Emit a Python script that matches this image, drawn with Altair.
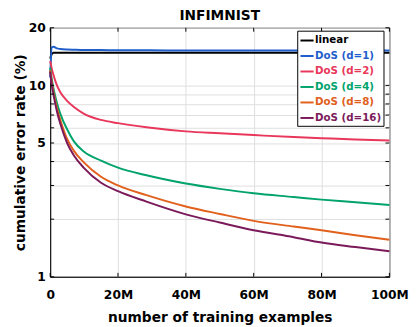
import altair as alt
import pandas as pd

# ---- data ----
names = ["linear", "DoS (d=1)", "DoS (d=2)", "DoS (d=4)", "DoS (d=8)", "DoS (d=16)"]
colors = ["#000000", "#1f5fcc", "#e8375a", "#00a36c", "#e0601c", "#7b1a5a"]

x_millions = [0, 0.5, 1, 2, 3, 5, 7, 10, 15, 20, 28.4, 40, 50, 60, 71.8, 80, 90, 100]

linear = [13.8, 14.6, 14.8, 14.8, 14.8, 14.8, 14.8, 14.8, 14.8, 14.8, 14.8, 14.8, 14.8, 14.8, 14.8, 14.8, 14.8, 14.8]
dos_d1 = [11.0, 15.8, 15.9, 15.6, 15.5, 15.4, 15.35, 15.3, 15.3, 15.25, 15.25, 15.2, 15.2, 15.2, 15.2, 15.2, 15.2, 15.2]
dos_d2 = [13.4, 12.2, 11.3, 10.0, 9.2, 8.3, 7.7, 7.1, 6.6, 6.35, 6.04, 5.75, 5.62, 5.5, 5.37, 5.3, 5.22, 5.15]
dos_d4 = [12.4, 10.7, 9.6, 8.1, 7.1, 5.9, 5.1, 4.5, 4.05, 3.72, 3.39, 3.07, 2.88, 2.73, 2.61, 2.53, 2.45, 2.37]
dos_d8 = [12.0, 10.3, 9.2, 7.6, 6.6, 5.25, 4.55, 3.95, 3.33, 3.0, 2.67, 2.33, 2.13, 1.96, 1.83, 1.75, 1.65, 1.56]
dos_d16 = [11.8, 10.0, 8.9, 7.3, 6.3, 5.0, 4.3, 3.7, 3.1, 2.8, 2.47, 2.12, 1.92, 1.75, 1.61, 1.51, 1.43, 1.36]

series = [linear, dos_d1, dos_d2, dos_d4, dos_d8, dos_d16]

y_ticks = [1, 2, 3, 4, 5, 6, 7, 8, 9, 10, 20]
y_labels = [1, 5, 10, 20]
x_ticks = [0, 20, 40, 60, 80, 100]

W, H = 346, 254
TICK = 4

rows = []
for name, vals in zip(names, series):
    for i, (x, v) in enumerate(zip(x_millions, vals)):
        rows.append({"series": name, "x": x, "err": v, "order": i})
df = pd.DataFrame(rows)

label_color_expr = ""
for n, c in zip(names, colors):
    label_color_expr += f"datum.label == '{n}' ? '{c}' : "
label_color_expr += "'black'"

ylab_test = " || ".join(f"datum.value == {v}" for v in y_labels)

xscale = alt.Scale(domain=[0, 100], nice=False)
yscale = alt.Scale(type="log", domain=[1, 20], nice=False)

lines = alt.Chart(df).mark_line(strokeWidth=2, interpolate="monotone").encode(
    x=alt.X("x:Q", scale=xscale,
            axis=alt.Axis(values=x_ticks, title="number of training examples",
                          labelExpr="datum.value == 0 ? '0' : datum.value + 'M'",
                          labelFlush=False, labelOverlap=False, labelPadding=12,
                          titlePadding=10)),
    y=alt.Y("err:Q", scale=yscale,
            axis=alt.Axis(values=y_ticks, title="cumulative error rate (%)",
                          labelExpr=f"({ylab_test}) ? '' + datum.value : ''",
                          labelOverlap=False, labelPadding=5, titlePadding=1)),
    color=alt.Color("series:N",
                    scale=alt.Scale(domain=names, range=colors),
                    sort=names,
                    legend=alt.Legend(title=None, orient="none", legendX=252, legendY=3,
                                      strokeColor="black", fillColor="white",
                                      padding=2, symbolType="stroke",
                                      symbolStrokeWidth=2, symbolSize=180,
                                      labelFont="DejaVu Sans", labelFontSize=10.5,
                                      labelFontWeight="bold",
                                      labelColor=alt.ExprRef(expr=label_color_expr),
                                      rowPadding=1.8, columnPadding=0, labelOffset=0,
                                      cornerRadius=0)),
    order="order:Q",
)

ytick_df = pd.DataFrame({"v": y_ticks})
xtick_df = pd.DataFrame({"v": x_ticks})

yt_left = alt.Chart(ytick_df).mark_rule(color="black", strokeWidth=1).encode(
    y=alt.Y("v:Q", scale=yscale), x=alt.value(0), x2=alt.value(TICK))
yt_right = alt.Chart(ytick_df).mark_rule(color="black", strokeWidth=1).encode(
    y=alt.Y("v:Q", scale=yscale), x=alt.value(W - TICK), x2=alt.value(W))
xt_bottom = alt.Chart(xtick_df).mark_rule(color="black", strokeWidth=1).encode(
    x=alt.X("v:Q", scale=xscale), y=alt.value(H - TICK), y2=alt.value(H))
xt_top = alt.Chart(xtick_df).mark_rule(color="black", strokeWidth=1).encode(
    x=alt.X("v:Q", scale=xscale), y=alt.value(0), y2=alt.value(TICK))

chart = alt.layer(lines, yt_left, yt_right, xt_bottom, xt_top).properties(
    width=W, height=H,
    title=alt.Title("INFIMNIST", font="DejaVu Sans", fontSize=14, fontWeight="bold",
                    color="black", offset=4, frame="group", dy=5),
    padding={"left": 43, "top": 17, "right": 20, "bottom": 46},
    autosize=alt.AutoSizeParams(type="none"),
    background="white",
).configure_view(
    stroke="black", strokeWidth=1
).configure_axis(
    labelFont="DejaVu Sans", labelFontSize=12.5, labelFontWeight="bold", labelColor="black",
    titleFont="DejaVu Sans", titleFontSize=14, titleFontWeight="bold", titleColor="black",
    tickSize=0, domainColor="black", domainWidth=1,
    gridColor="#dedede", gridWidth=1,
)

chart.save("out.html", embed_options={"renderer": "svg", "actions": False})
